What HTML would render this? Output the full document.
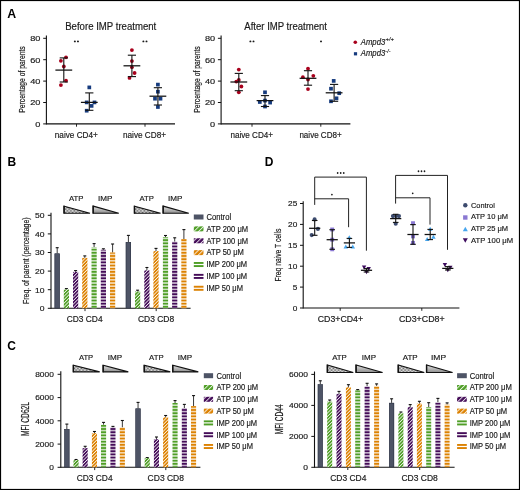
<!DOCTYPE html><html><head><meta charset="utf-8"><style>html,body{margin:0;padding:0;background:#fff;}svg{display:block;will-change:transform;}text{font-family:"Liberation Sans",sans-serif;}</style></head><body>
<svg width="520" height="490" viewBox="0 0 520 490">

<defs>
 <pattern id="dg" patternUnits="userSpaceOnUse" width="2.4" height="2.4" patternTransform="rotate(45)"><rect width="2.4" height="2.4" fill="#4f9e26"/><rect width="0.8" height="2.4" fill="#fff" fill-opacity="0.9"/></pattern>
 <pattern id="dp" patternUnits="userSpaceOnUse" width="2.4" height="2.4" patternTransform="rotate(45)"><rect width="2.4" height="2.4" fill="#440c58"/><rect width="0.8" height="2.4" fill="#fff" fill-opacity="0.9"/></pattern>
 <pattern id="do" patternUnits="userSpaceOnUse" width="2.4" height="2.4" patternTransform="rotate(45)"><rect width="2.4" height="2.4" fill="#dc8203"/><rect width="0.8" height="2.4" fill="#fff" fill-opacity="0.9"/></pattern>
 <pattern id="lg" patternUnits="userSpaceOnUse" width="3.3" height="3.3" patternTransform="rotate(45)"><rect width="3.3" height="3.3" fill="#4f9e26"/><rect width="0.95" height="3.3" fill="#fff" fill-opacity="0.85"/></pattern>
 <pattern id="lp" patternUnits="userSpaceOnUse" width="3.3" height="3.3" patternTransform="rotate(45)"><rect width="3.3" height="3.3" fill="#440c58"/><rect width="0.95" height="3.3" fill="#fff" fill-opacity="0.85"/></pattern>
 <pattern id="lo" patternUnits="userSpaceOnUse" width="3.3" height="3.3" patternTransform="rotate(45)"><rect width="3.3" height="3.3" fill="#dc8203"/><rect width="0.95" height="3.3" fill="#fff" fill-opacity="0.85"/></pattern>
 <pattern id="hg" patternUnits="userSpaceOnUse" width="10" height="3.18" y="0.78"><rect width="10" height="3.18" fill="#4f9e26"/><rect y="1.65" width="10" height="1.53" fill="#fff" fill-opacity="0.72"/></pattern>
 <pattern id="hp" patternUnits="userSpaceOnUse" width="10" height="3.18" y="0.78"><rect width="10" height="3.18" fill="#440c58"/><rect y="1.65" width="10" height="1.53" fill="#fff" fill-opacity="0.72"/></pattern>
 <pattern id="ho" patternUnits="userSpaceOnUse" width="10" height="3.18" y="0.78"><rect width="10" height="3.18" fill="#dc8203"/><rect y="1.65" width="10" height="1.53" fill="#fff" fill-opacity="0.72"/></pattern>
 <pattern id="hg2" patternUnits="userSpaceOnUse" width="10" height="3.17" y="0.25"><rect width="10" height="3.17" fill="#4f9e26"/><rect y="1.65" width="10" height="1.52" fill="#fff" fill-opacity="0.72"/></pattern>
 <pattern id="hp2" patternUnits="userSpaceOnUse" width="10" height="3.17" y="0.25"><rect width="10" height="3.17" fill="#440c58"/><rect y="1.65" width="10" height="1.52" fill="#fff" fill-opacity="0.72"/></pattern>
 <pattern id="ho2" patternUnits="userSpaceOnUse" width="10" height="3.17" y="0.25"><rect width="10" height="3.17" fill="#dc8203"/><rect y="1.65" width="10" height="1.52" fill="#fff" fill-opacity="0.72"/></pattern>
 <pattern id="chk" patternUnits="userSpaceOnUse" width="1.4" height="1.4"><rect width="1.4" height="1.4" fill="#fff"/><rect width="0.7" height="0.7" fill="#5a5a5a"/><rect x="0.7" y="0.7" width="0.7" height="0.7" fill="#5a5a5a"/></pattern>
 <linearGradient id="grd" x1="0" y1="0" x2="0" y2="1"><stop offset="0" stop-color="#e2e2e2"/><stop offset="1" stop-color="#8e8e8e"/></linearGradient>
</defs>
<rect x="0" y="0" width="520" height="490" fill="#fff"/>
<text x="7.3" y="17.6" font-size="12.3" font-weight="bold" fill="#000">A</text>
<text x="7.4" y="165.9" font-size="12" font-weight="bold" fill="#000">B</text>
<text x="264.8" y="165.7" font-size="12" font-weight="bold" fill="#000">D</text>
<text x="7.3" y="350.2" font-size="12" font-weight="bold" fill="#000">C</text>
<text x="65.2" y="29.6" font-size="10" textLength="91.1" lengthAdjust="spacingAndGlyphs" fill="#1a1a1a" stroke="#1a1a1a" stroke-width="0.17">Before IMP treatment</text>
<line x1="46.4" y1="35.6" x2="46.4" y2="124.4" stroke="#111" stroke-width="1.1"/>
<line x1="43.2" y1="38.3" x2="46.4" y2="38.3" stroke="#111" stroke-width="1"/>
<text x="30.2" y="41.1" font-size="8" textLength="10.2" lengthAdjust="spacingAndGlyphs" fill="#1a1a1a" stroke="#1a1a1a" stroke-width="0.17">80</text>
<line x1="43.2" y1="59.7" x2="46.4" y2="59.7" stroke="#111" stroke-width="1"/>
<text x="30.2" y="62.5" font-size="8" textLength="10.2" lengthAdjust="spacingAndGlyphs" fill="#1a1a1a" stroke="#1a1a1a" stroke-width="0.17">60</text>
<line x1="43.2" y1="81.1" x2="46.4" y2="81.1" stroke="#111" stroke-width="1"/>
<text x="30.2" y="83.9" font-size="8" textLength="10.2" lengthAdjust="spacingAndGlyphs" fill="#1a1a1a" stroke="#1a1a1a" stroke-width="0.17">40</text>
<line x1="43.2" y1="102.5" x2="46.4" y2="102.5" stroke="#111" stroke-width="1"/>
<text x="30.2" y="105.3" font-size="8" textLength="10.2" lengthAdjust="spacingAndGlyphs" fill="#1a1a1a" stroke="#1a1a1a" stroke-width="0.17">20</text>
<line x1="43.2" y1="123.9" x2="46.4" y2="123.9" stroke="#111" stroke-width="1"/>
<text x="35.3" y="126.7" font-size="8" textLength="5.1" lengthAdjust="spacingAndGlyphs" fill="#1a1a1a" stroke="#1a1a1a" stroke-width="0.17">0</text>
<line x1="46.4" y1="123.9" x2="175" y2="123.9" stroke="#111" stroke-width="1.1"/>
<line x1="76.5" y1="123.9" x2="76.5" y2="126.7" stroke="#111" stroke-width="0.9"/>
<line x1="145" y1="123.9" x2="145" y2="126.7" stroke="#111" stroke-width="0.9"/>
<text transform="translate(24.9,112.7) rotate(-90)" x="0" y="0" font-size="9.5" textLength="66.4" lengthAdjust="spacingAndGlyphs" fill="#1a1a1a" stroke="#1a1a1a" stroke-width="0.2">Percentage of parents</text>
<text x="54.8" y="137.6" font-size="8.6" textLength="43" lengthAdjust="spacingAndGlyphs" fill="#1a1a1a" stroke="#1a1a1a" stroke-width="0.17">naive CD4+</text>
<text x="123" y="137.6" font-size="8.6" textLength="43" lengthAdjust="spacingAndGlyphs" fill="#1a1a1a" stroke="#1a1a1a" stroke-width="0.17">naive CD8+</text>
<text x="244.3" y="29.6" font-size="10" textLength="82.7" lengthAdjust="spacingAndGlyphs" fill="#1a1a1a" stroke="#1a1a1a" stroke-width="0.17">After IMP treatment</text>
<line x1="221.1" y1="35.6" x2="221.1" y2="124.4" stroke="#111" stroke-width="1.1"/>
<line x1="217.9" y1="38.3" x2="221.1" y2="38.3" stroke="#111" stroke-width="1"/>
<text x="204.9" y="41.1" font-size="8" textLength="10.2" lengthAdjust="spacingAndGlyphs" fill="#1a1a1a" stroke="#1a1a1a" stroke-width="0.17">80</text>
<line x1="217.9" y1="59.7" x2="221.1" y2="59.7" stroke="#111" stroke-width="1"/>
<text x="204.9" y="62.5" font-size="8" textLength="10.2" lengthAdjust="spacingAndGlyphs" fill="#1a1a1a" stroke="#1a1a1a" stroke-width="0.17">60</text>
<line x1="217.9" y1="81.1" x2="221.1" y2="81.1" stroke="#111" stroke-width="1"/>
<text x="204.9" y="83.9" font-size="8" textLength="10.2" lengthAdjust="spacingAndGlyphs" fill="#1a1a1a" stroke="#1a1a1a" stroke-width="0.17">40</text>
<line x1="217.9" y1="102.5" x2="221.1" y2="102.5" stroke="#111" stroke-width="1"/>
<text x="204.9" y="105.3" font-size="8" textLength="10.2" lengthAdjust="spacingAndGlyphs" fill="#1a1a1a" stroke="#1a1a1a" stroke-width="0.17">20</text>
<line x1="217.9" y1="123.9" x2="221.1" y2="123.9" stroke="#111" stroke-width="1"/>
<text x="210" y="126.7" font-size="8" textLength="5.1" lengthAdjust="spacingAndGlyphs" fill="#1a1a1a" stroke="#1a1a1a" stroke-width="0.17">0</text>
<line x1="221.1" y1="123.9" x2="350.4" y2="123.9" stroke="#111" stroke-width="1.1"/>
<line x1="252" y1="123.9" x2="252" y2="126.7" stroke="#111" stroke-width="0.9"/>
<line x1="320.8" y1="123.9" x2="320.8" y2="126.7" stroke="#111" stroke-width="0.9"/>
<text transform="translate(199.6,112.7) rotate(-90)" x="0" y="0" font-size="9.5" textLength="66.4" lengthAdjust="spacingAndGlyphs" fill="#1a1a1a" stroke="#1a1a1a" stroke-width="0.2">Percentage of parents</text>
<text x="230.4" y="137.6" font-size="8.6" textLength="42.6" lengthAdjust="spacingAndGlyphs" fill="#1a1a1a" stroke="#1a1a1a" stroke-width="0.17">naive CD4+</text>
<text x="299.4" y="137.6" font-size="8.6" textLength="42.3" lengthAdjust="spacingAndGlyphs" fill="#1a1a1a" stroke="#1a1a1a" stroke-width="0.17">naive CD8+</text>
<ellipse cx="74.85" cy="41.4" rx="1" ry="0.9" fill="#1a1a1a"/>
<ellipse cx="77.95" cy="41.4" rx="1" ry="0.9" fill="#1a1a1a"/>
<ellipse cx="143.4" cy="41.4" rx="1" ry="0.9" fill="#1a1a1a"/>
<ellipse cx="146.5" cy="41.4" rx="1" ry="0.9" fill="#1a1a1a"/>
<ellipse cx="250.4" cy="41.4" rx="1" ry="0.9" fill="#1a1a1a"/>
<ellipse cx="253.5" cy="41.4" rx="1" ry="0.9" fill="#1a1a1a"/>
<ellipse cx="321" cy="41.4" rx="1" ry="0.9" fill="#1a1a1a"/>
<circle cx="66" cy="57.3" r="1.9" fill="#a8001c"/>
<circle cx="60.9" cy="60.8" r="1.9" fill="#a8001c"/>
<circle cx="63.8" cy="66.5" r="1.9" fill="#a8001c"/>
<circle cx="66" cy="80.6" r="1.9" fill="#a8001c"/>
<circle cx="60.9" cy="85.1" r="1.9" fill="#a8001c"/>
<line x1="63.8" y1="57.9" x2="63.8" y2="82" stroke="#111" stroke-width="1.1"/>
<line x1="59.7" y1="57.9" x2="67.9" y2="57.9" stroke="#111" stroke-width="1.1"/>
<line x1="59.7" y1="82" x2="67.9" y2="82" stroke="#111" stroke-width="1.1"/>
<line x1="55.4" y1="70.1" x2="72.2" y2="70.1" stroke="#111" stroke-width="1.26"/>
<rect x="87.45" y="85.55" width="3.7" height="3.7" fill="#163b7e"/>
<rect x="84.85" y="100.55" width="3.7" height="3.7" fill="#163b7e"/>
<rect x="92.65" y="100.55" width="3.7" height="3.7" fill="#163b7e"/>
<rect x="89.75" y="104.05" width="3.7" height="3.7" fill="#163b7e"/>
<rect x="84.85" y="108.85" width="3.7" height="3.7" fill="#163b7e"/>
<line x1="89.3" y1="92.9" x2="89.3" y2="110.3" stroke="#111" stroke-width="1.1"/>
<line x1="85.2" y1="92.9" x2="93.4" y2="92.9" stroke="#111" stroke-width="1.1"/>
<line x1="85.2" y1="110.3" x2="93.4" y2="110.3" stroke="#111" stroke-width="1.1"/>
<line x1="80.9" y1="102.4" x2="97.7" y2="102.4" stroke="#111" stroke-width="1.26"/>
<circle cx="131.9" cy="50.1" r="1.9" fill="#a8001c"/>
<circle cx="131.9" cy="61.1" r="1.9" fill="#a8001c"/>
<circle cx="131.9" cy="67.2" r="1.9" fill="#a8001c"/>
<circle cx="134.6" cy="73" r="1.9" fill="#a8001c"/>
<circle cx="129.5" cy="77.9" r="1.9" fill="#a8001c"/>
<line x1="131.9" y1="55.2" x2="131.9" y2="76.6" stroke="#111" stroke-width="1.1"/>
<line x1="127.8" y1="55.2" x2="136" y2="55.2" stroke="#111" stroke-width="1.1"/>
<line x1="127.8" y1="76.6" x2="136" y2="76.6" stroke="#111" stroke-width="1.1"/>
<line x1="123.5" y1="65.8" x2="140.3" y2="65.8" stroke="#111" stroke-width="1.26"/>
<rect x="156.05" y="82.75" width="3.7" height="3.7" fill="#163b7e"/>
<rect x="156.05" y="89.85" width="3.7" height="3.7" fill="#163b7e"/>
<rect x="153.15" y="96.85" width="3.7" height="3.7" fill="#163b7e"/>
<rect x="158.65" y="96.85" width="3.7" height="3.7" fill="#163b7e"/>
<rect x="156.05" y="105.15" width="3.7" height="3.7" fill="#163b7e"/>
<line x1="157.9" y1="87.7" x2="157.9" y2="105" stroke="#111" stroke-width="1.1"/>
<line x1="153.8" y1="87.7" x2="162" y2="87.7" stroke="#111" stroke-width="1.1"/>
<line x1="153.8" y1="105" x2="162" y2="105" stroke="#111" stroke-width="1.1"/>
<line x1="149.5" y1="96.2" x2="166.3" y2="96.2" stroke="#111" stroke-width="1.26"/>
<circle cx="238.8" cy="69.6" r="1.9" fill="#a8001c"/>
<circle cx="236.3" cy="81.6" r="1.9" fill="#a8001c"/>
<circle cx="238.8" cy="80" r="1.9" fill="#a8001c"/>
<circle cx="241.4" cy="86.5" r="1.9" fill="#a8001c"/>
<circle cx="238.8" cy="92.3" r="1.9" fill="#a8001c"/>
<line x1="238.8" y1="73.4" x2="238.8" y2="90.7" stroke="#111" stroke-width="1.1"/>
<line x1="234.7" y1="73.4" x2="242.9" y2="73.4" stroke="#111" stroke-width="1.1"/>
<line x1="234.7" y1="90.7" x2="242.9" y2="90.7" stroke="#111" stroke-width="1.1"/>
<line x1="230.4" y1="82" x2="247.2" y2="82" stroke="#111" stroke-width="1.26"/>
<rect x="263.15" y="90.45" width="3.7" height="3.7" fill="#163b7e"/>
<rect x="257.95" y="100.15" width="3.7" height="3.7" fill="#163b7e"/>
<rect x="263.15" y="98.75" width="3.7" height="3.7" fill="#163b7e"/>
<rect x="268.25" y="100.75" width="3.7" height="3.7" fill="#163b7e"/>
<rect x="263.15" y="104.65" width="3.7" height="3.7" fill="#163b7e"/>
<line x1="265" y1="95.6" x2="265" y2="106.5" stroke="#111" stroke-width="1.1"/>
<line x1="260.9" y1="95.6" x2="269.1" y2="95.6" stroke="#111" stroke-width="1.1"/>
<line x1="260.9" y1="106.5" x2="269.1" y2="106.5" stroke="#111" stroke-width="1.1"/>
<line x1="256.6" y1="100.6" x2="273.4" y2="100.6" stroke="#111" stroke-width="1.26"/>
<circle cx="308" cy="68.7" r="1.9" fill="#a8001c"/>
<circle cx="302.9" cy="77.2" r="1.9" fill="#a8001c"/>
<circle cx="308" cy="79.5" r="1.9" fill="#a8001c"/>
<circle cx="313.3" cy="75.8" r="1.9" fill="#a8001c"/>
<circle cx="308" cy="89.1" r="1.9" fill="#a8001c"/>
<line x1="308" y1="70.7" x2="308" y2="85.2" stroke="#111" stroke-width="1.1"/>
<line x1="303.9" y1="70.7" x2="312.1" y2="70.7" stroke="#111" stroke-width="1.1"/>
<line x1="303.9" y1="85.2" x2="312.1" y2="85.2" stroke="#111" stroke-width="1.1"/>
<line x1="299.6" y1="78.3" x2="316.4" y2="78.3" stroke="#111" stroke-width="1.26"/>
<rect x="331.85" y="79.05" width="3.7" height="3.7" fill="#163b7e"/>
<rect x="329.15" y="86.85" width="3.7" height="3.7" fill="#163b7e"/>
<rect x="337.35" y="91.35" width="3.7" height="3.7" fill="#163b7e"/>
<rect x="334.65" y="96.45" width="3.7" height="3.7" fill="#163b7e"/>
<rect x="329.15" y="99.45" width="3.7" height="3.7" fill="#163b7e"/>
<line x1="334.1" y1="84.4" x2="334.1" y2="101.3" stroke="#111" stroke-width="1.1"/>
<line x1="330" y1="84.4" x2="338.2" y2="84.4" stroke="#111" stroke-width="1.1"/>
<line x1="330" y1="101.3" x2="338.2" y2="101.3" stroke="#111" stroke-width="1.1"/>
<line x1="325.7" y1="92.8" x2="342.5" y2="92.8" stroke="#111" stroke-width="1.26"/>
<circle cx="355.3" cy="42.3" r="1.8" fill="#a8001c"/>
<rect x="353.9" y="52.2" width="3.2" height="3.2" fill="#163b7e"/>
<text x="360.8" y="44.85" font-size="8.3" textLength="24.4" lengthAdjust="spacingAndGlyphs" font-style="italic" fill="#1a1a1a" stroke="#1a1a1a" stroke-width="0.17">Ampd3</text>
<text x="385.6" y="41.4" font-size="5.6" textLength="8.2" lengthAdjust="spacingAndGlyphs" font-style="italic" fill="#1a1a1a" stroke="#1a1a1a" stroke-width="0.17">+/+</text>
<text x="360.8" y="56.3" font-size="8.3" textLength="24.4" lengthAdjust="spacingAndGlyphs" font-style="italic" fill="#1a1a1a" stroke="#1a1a1a" stroke-width="0.17">Ampd3</text>
<text x="385.6" y="53" font-size="5.6" textLength="5" lengthAdjust="spacingAndGlyphs" font-style="italic" fill="#1a1a1a" stroke="#1a1a1a" stroke-width="0.17">-/-</text>
<line x1="51" y1="212.7" x2="51" y2="308.8" stroke="#111" stroke-width="1.1"/>
<line x1="47.8" y1="215.3" x2="51" y2="215.3" stroke="#111" stroke-width="1"/>
<text x="35.1" y="218.1" font-size="8" textLength="9.5" lengthAdjust="spacingAndGlyphs" fill="#1a1a1a" stroke="#1a1a1a" stroke-width="0.17">50</text>
<line x1="47.8" y1="233.9" x2="51" y2="233.9" stroke="#111" stroke-width="1"/>
<text x="35.1" y="236.7" font-size="8" textLength="9.5" lengthAdjust="spacingAndGlyphs" fill="#1a1a1a" stroke="#1a1a1a" stroke-width="0.17">40</text>
<line x1="47.8" y1="252.5" x2="51" y2="252.5" stroke="#111" stroke-width="1"/>
<text x="35.1" y="255.3" font-size="8" textLength="9.5" lengthAdjust="spacingAndGlyphs" fill="#1a1a1a" stroke="#1a1a1a" stroke-width="0.17">30</text>
<line x1="47.8" y1="271.1" x2="51" y2="271.1" stroke="#111" stroke-width="1"/>
<text x="35.1" y="273.9" font-size="8" textLength="9.5" lengthAdjust="spacingAndGlyphs" fill="#1a1a1a" stroke="#1a1a1a" stroke-width="0.17">20</text>
<line x1="47.8" y1="289.7" x2="51" y2="289.7" stroke="#111" stroke-width="1"/>
<text x="35.1" y="292.5" font-size="8" textLength="9.5" lengthAdjust="spacingAndGlyphs" fill="#1a1a1a" stroke="#1a1a1a" stroke-width="0.17">10</text>
<line x1="47.8" y1="308.3" x2="51" y2="308.3" stroke="#111" stroke-width="1"/>
<text x="39.85" y="311.1" font-size="8" textLength="4.75" lengthAdjust="spacingAndGlyphs" fill="#1a1a1a" stroke="#1a1a1a" stroke-width="0.17">0</text>
<line x1="51" y1="308.3" x2="190.6" y2="308.3" stroke="#111" stroke-width="1.1"/>
<line x1="85" y1="308.3" x2="85" y2="311.1" stroke="#111" stroke-width="0.9"/>
<line x1="156.2" y1="308.3" x2="156.2" y2="311.1" stroke="#111" stroke-width="0.9"/>
<text transform="translate(28.5,304) rotate(-90)" x="0" y="0" font-size="9.4" textLength="86.6" lengthAdjust="spacingAndGlyphs" fill="#1a1a1a" stroke="#1a1a1a" stroke-width="0.2">Freq. of parent (percentage)</text>
<text x="66.7" y="321.6" font-size="8.2" textLength="35.9" lengthAdjust="spacingAndGlyphs" fill="#1a1a1a" stroke="#1a1a1a" stroke-width="0.17">CD3 CD4</text>
<text x="137.9" y="321.6" font-size="8.2" textLength="36.3" lengthAdjust="spacingAndGlyphs" fill="#1a1a1a" stroke="#1a1a1a" stroke-width="0.17">CD3 CD8</text>
<line x1="57.2" y1="247.7" x2="57.2" y2="253.5" stroke="#222" stroke-width="0.9"/>
<line x1="55.7" y1="247.7" x2="58.7" y2="247.7" stroke="#111" stroke-width="1.1"/>
<rect x="54.6" y="253.5" width="5.2" height="54.8" fill="#4e5466"/>
<rect x="54.85" y="253.75" width="4.7" height="54.3" fill="none" stroke="#2a3040" stroke-width="0.5"/>
<line x1="66.4" y1="288.6" x2="66.4" y2="289.5" stroke="#222" stroke-width="0.9"/>
<line x1="64.9" y1="288.6" x2="67.9" y2="288.6" stroke="#111" stroke-width="1.1"/>
<rect x="63.8" y="289.5" width="5.2" height="18.8" fill="url(#dg)"/>
<line x1="75.6" y1="270.6" x2="75.6" y2="271.9" stroke="#222" stroke-width="0.9"/>
<line x1="74.1" y1="270.6" x2="77.1" y2="270.6" stroke="#111" stroke-width="1.1"/>
<rect x="73" y="271.9" width="5.2" height="36.4" fill="url(#dp)"/>
<line x1="84.8" y1="255.9" x2="84.8" y2="257.9" stroke="#222" stroke-width="0.9"/>
<line x1="83.3" y1="255.9" x2="86.3" y2="255.9" stroke="#111" stroke-width="1.1"/>
<rect x="82.2" y="257.9" width="5.2" height="50.4" fill="url(#do)"/>
<line x1="94.1" y1="243.6" x2="94.1" y2="247.2" stroke="#222" stroke-width="0.9"/>
<line x1="92.6" y1="243.6" x2="95.6" y2="243.6" stroke="#111" stroke-width="1.1"/>
<rect x="91.5" y="247.2" width="5.2" height="61.1" fill="url(#hg)"/>
<line x1="103.4" y1="248.8" x2="103.4" y2="249.8" stroke="#222" stroke-width="0.9"/>
<line x1="101.9" y1="248.8" x2="104.9" y2="248.8" stroke="#111" stroke-width="1.1"/>
<rect x="100.8" y="249.8" width="5.2" height="58.5" fill="url(#hp)"/>
<line x1="112.6" y1="244" x2="112.6" y2="252.5" stroke="#222" stroke-width="0.9"/>
<line x1="111.1" y1="244" x2="114.1" y2="244" stroke="#111" stroke-width="1.1"/>
<rect x="110" y="252.5" width="5.2" height="55.8" fill="url(#ho)"/>
<line x1="128.4" y1="235.4" x2="128.4" y2="242.1" stroke="#222" stroke-width="0.9"/>
<line x1="126.9" y1="235.4" x2="129.9" y2="235.4" stroke="#111" stroke-width="1.1"/>
<rect x="125.8" y="242.1" width="5.2" height="66.2" fill="#4e5466"/>
<rect x="126.05" y="242.35" width="4.7" height="65.7" fill="none" stroke="#2a3040" stroke-width="0.5"/>
<line x1="137.6" y1="290.2" x2="137.6" y2="291.5" stroke="#222" stroke-width="0.9"/>
<line x1="136.1" y1="290.2" x2="139.1" y2="290.2" stroke="#111" stroke-width="1.1"/>
<rect x="135" y="291.5" width="5.2" height="16.8" fill="url(#dg)"/>
<line x1="146.9" y1="267.5" x2="146.9" y2="270.4" stroke="#222" stroke-width="0.9"/>
<line x1="145.4" y1="267.5" x2="148.4" y2="267.5" stroke="#111" stroke-width="1.1"/>
<rect x="144.3" y="270.4" width="5.2" height="37.9" fill="url(#dp)"/>
<line x1="156" y1="248.4" x2="156" y2="251.1" stroke="#222" stroke-width="0.9"/>
<line x1="154.5" y1="248.4" x2="157.5" y2="248.4" stroke="#111" stroke-width="1.1"/>
<rect x="153.4" y="251.1" width="5.2" height="57.2" fill="url(#do)"/>
<line x1="165.5" y1="235.5" x2="165.5" y2="237.2" stroke="#222" stroke-width="0.9"/>
<line x1="164" y1="235.5" x2="167" y2="235.5" stroke="#111" stroke-width="1.1"/>
<rect x="162.9" y="237.2" width="5.2" height="71.1" fill="url(#hg)"/>
<line x1="174.7" y1="237.8" x2="174.7" y2="241.7" stroke="#222" stroke-width="0.9"/>
<line x1="173.2" y1="237.8" x2="176.2" y2="237.8" stroke="#111" stroke-width="1.1"/>
<rect x="172.1" y="241.7" width="5.2" height="66.6" fill="url(#hp)"/>
<line x1="183.9" y1="229.6" x2="183.9" y2="239" stroke="#222" stroke-width="0.9"/>
<line x1="182.4" y1="229.6" x2="185.4" y2="229.6" stroke="#111" stroke-width="1.1"/>
<rect x="181.3" y="239" width="5.2" height="69.3" fill="url(#ho)"/>
<polygon points="64,206.1 64,213.3 90,213.3" fill="url(#chk)" stroke="#111" stroke-width="1.1" stroke-linejoin="miter"/>
<line x1="64.1" y1="205.8" x2="64.1" y2="213.6" stroke="#111" stroke-width="1.4"/>
<polygon points="93.1,206.1 93.1,213.3 118.8,213.3" fill="url(#grd)" stroke="#111" stroke-width="1.1" stroke-linejoin="miter"/>
<line x1="93.2" y1="205.8" x2="93.2" y2="213.6" stroke="#111" stroke-width="1.4"/>
<polygon points="134.4,206.1 134.4,213.3 160.6,213.3" fill="url(#chk)" stroke="#111" stroke-width="1.1" stroke-linejoin="miter"/>
<line x1="134.5" y1="205.8" x2="134.5" y2="213.6" stroke="#111" stroke-width="1.4"/>
<polygon points="163.1,206.1 163.1,213.3 188.8,213.3" fill="url(#grd)" stroke="#111" stroke-width="1.1" stroke-linejoin="miter"/>
<line x1="163.2" y1="205.8" x2="163.2" y2="213.6" stroke="#111" stroke-width="1.4"/>
<text x="69" y="201.1" font-size="8" textLength="14.5" lengthAdjust="spacingAndGlyphs" fill="#1a1a1a" stroke="#1a1a1a" stroke-width="0.17">ATP</text>
<text x="97.9" y="201.1" font-size="8" textLength="14.4" lengthAdjust="spacingAndGlyphs" fill="#1a1a1a" stroke="#1a1a1a" stroke-width="0.17">IMP</text>
<text x="139.4" y="201.1" font-size="8" textLength="14.4" lengthAdjust="spacingAndGlyphs" fill="#1a1a1a" stroke="#1a1a1a" stroke-width="0.17">ATP</text>
<text x="167.9" y="201.1" font-size="8" textLength="14.4" lengthAdjust="spacingAndGlyphs" fill="#1a1a1a" stroke="#1a1a1a" stroke-width="0.17">IMP</text>
<rect x="193.8" y="214.5" width="9.7" height="5" fill="#4e5466"/>
<text x="206.5" y="219.8" font-size="8.2" textLength="24.6" lengthAdjust="spacingAndGlyphs" fill="#1a1a1a" stroke="#1a1a1a" stroke-width="0.17">Control</text>
<rect x="193.8" y="226.38" width="9.7" height="5" fill="url(#lg)"/>
<text x="206.5" y="231.68" font-size="8.2" textLength="41.6" lengthAdjust="spacingAndGlyphs" fill="#1a1a1a" stroke="#1a1a1a" stroke-width="0.17">ATP 200 &#956;M</text>
<rect x="193.8" y="238.26" width="9.7" height="5" fill="url(#lp)"/>
<text x="206.5" y="243.56" font-size="8.2" textLength="41.6" lengthAdjust="spacingAndGlyphs" fill="#1a1a1a" stroke="#1a1a1a" stroke-width="0.17">ATP 100 &#956;M</text>
<rect x="193.8" y="250.14" width="9.7" height="5" fill="url(#lo)"/>
<text x="206.5" y="255.44" font-size="8.2" textLength="37.4" lengthAdjust="spacingAndGlyphs" fill="#1a1a1a" stroke="#1a1a1a" stroke-width="0.17">ATP 50 &#956;M</text>
<rect x="193.8" y="262.02" width="9.7" height="1.9" fill="#4f9e26"/>
<rect x="193.8" y="265.12" width="9.7" height="1.9" fill="#4f9e26"/>
<text x="206.5" y="267.32" font-size="8.2" textLength="40.6" lengthAdjust="spacingAndGlyphs" fill="#1a1a1a" stroke="#1a1a1a" stroke-width="0.17">IMP 200 &#956;M</text>
<rect x="193.8" y="273.9" width="9.7" height="1.9" fill="#440c58"/>
<rect x="193.8" y="277" width="9.7" height="1.9" fill="#440c58"/>
<text x="206.5" y="279.2" font-size="8.2" textLength="40.6" lengthAdjust="spacingAndGlyphs" fill="#1a1a1a" stroke="#1a1a1a" stroke-width="0.17">IMP 100 &#956;M</text>
<rect x="193.8" y="285.78" width="9.7" height="1.9" fill="#dc8203"/>
<rect x="193.8" y="288.88" width="9.7" height="1.9" fill="#dc8203"/>
<text x="206.5" y="291.08" font-size="8.2" textLength="36.4" lengthAdjust="spacingAndGlyphs" fill="#1a1a1a" stroke="#1a1a1a" stroke-width="0.17">IMP 50 &#956;M</text>
<line x1="303.2" y1="201.2" x2="303.2" y2="308.5" stroke="#111" stroke-width="1.1"/>
<line x1="300" y1="203.5" x2="303.2" y2="203.5" stroke="#111" stroke-width="1"/>
<text x="288.1" y="206.3" font-size="8" textLength="9.2" lengthAdjust="spacingAndGlyphs" fill="#1a1a1a" stroke="#1a1a1a" stroke-width="0.17">25</text>
<line x1="300" y1="224.4" x2="303.2" y2="224.4" stroke="#111" stroke-width="1"/>
<text x="288.1" y="227.2" font-size="8" textLength="9.2" lengthAdjust="spacingAndGlyphs" fill="#1a1a1a" stroke="#1a1a1a" stroke-width="0.17">20</text>
<line x1="300" y1="245.3" x2="303.2" y2="245.3" stroke="#111" stroke-width="1"/>
<text x="288.1" y="248.1" font-size="8" textLength="9.2" lengthAdjust="spacingAndGlyphs" fill="#1a1a1a" stroke="#1a1a1a" stroke-width="0.17">15</text>
<line x1="300" y1="266.2" x2="303.2" y2="266.2" stroke="#111" stroke-width="1"/>
<text x="288.1" y="269" font-size="8" textLength="9.2" lengthAdjust="spacingAndGlyphs" fill="#1a1a1a" stroke="#1a1a1a" stroke-width="0.17">10</text>
<line x1="300" y1="287.1" x2="303.2" y2="287.1" stroke="#111" stroke-width="1"/>
<text x="292.7" y="289.9" font-size="8" textLength="4.6" lengthAdjust="spacingAndGlyphs" fill="#1a1a1a" stroke="#1a1a1a" stroke-width="0.17">5</text>
<line x1="300" y1="308" x2="303.2" y2="308" stroke="#111" stroke-width="1"/>
<text x="292.7" y="310.8" font-size="8" textLength="4.6" lengthAdjust="spacingAndGlyphs" fill="#1a1a1a" stroke="#1a1a1a" stroke-width="0.17">0</text>
<line x1="303.2" y1="308" x2="459.4" y2="308" stroke="#111" stroke-width="1.1"/>
<line x1="340.2" y1="308" x2="340.2" y2="310.8" stroke="#111" stroke-width="0.9"/>
<line x1="421.8" y1="308" x2="421.8" y2="310.8" stroke="#111" stroke-width="0.9"/>
<text transform="translate(281,281.6) rotate(-90)" x="0" y="0" font-size="9.3" textLength="53" lengthAdjust="spacingAndGlyphs" fill="#1a1a1a" stroke="#1a1a1a" stroke-width="0.2">Freq naive T cells</text>
<text x="317.8" y="321.8" font-size="8.2" textLength="45.3" lengthAdjust="spacingAndGlyphs" fill="#1a1a1a" stroke="#1a1a1a" stroke-width="0.17">CD3+CD4+</text>
<text x="398.9" y="321.8" font-size="8.2" textLength="45.8" lengthAdjust="spacingAndGlyphs" fill="#1a1a1a" stroke="#1a1a1a" stroke-width="0.17">CD3+CD8+</text>
<polyline points="314.7,204.9 314.7,177.1 366.4,177.1 366.4,250.7" fill="none" stroke="#222" stroke-width="1"/>
<polyline points="314.7,198.8 348.6,198.8 348.6,227.2" fill="none" stroke="#222" stroke-width="1"/>
<polyline points="395.6,203.6 395.6,175.4 447.5,175.4 447.5,249.8" fill="none" stroke="#222" stroke-width="1"/>
<polyline points="395.6,197.8 430.0,197.8 430.0,224.6" fill="none" stroke="#222" stroke-width="1"/>
<ellipse cx="337.65" cy="173" rx="0.85" ry="1" fill="#1a1a1a"/>
<ellipse cx="340.7" cy="173" rx="0.85" ry="1" fill="#1a1a1a"/>
<ellipse cx="343.75" cy="173" rx="0.85" ry="1" fill="#1a1a1a"/>
<ellipse cx="331.9" cy="194.6" rx="0.85" ry="0.9" fill="#1a1a1a"/>
<ellipse cx="418.5" cy="171.2" rx="0.85" ry="1" fill="#1a1a1a"/>
<ellipse cx="421.5" cy="171.2" rx="0.85" ry="1" fill="#1a1a1a"/>
<ellipse cx="424.5" cy="171.2" rx="0.85" ry="1" fill="#1a1a1a"/>
<ellipse cx="412.7" cy="193.3" rx="0.85" ry="0.9" fill="#1a1a1a"/>
<circle cx="314.6" cy="219.4" r="2.05" fill="#3c4b6e"/>
<circle cx="317.9" cy="228.9" r="2.05" fill="#3c4b6e"/>
<circle cx="311.7" cy="235.1" r="2.05" fill="#3c4b6e"/>
<line x1="314.7" y1="220.5" x2="314.7" y2="235.3" stroke="#111" stroke-width="1.1"/>
<line x1="311.9" y1="220.5" x2="317.5" y2="220.5" stroke="#111" stroke-width="1.1"/>
<line x1="311.9" y1="235.3" x2="317.5" y2="235.3" stroke="#111" stroke-width="1.1"/>
<line x1="309.1" y1="228.3" x2="320.3" y2="228.3" stroke="#111" stroke-width="1.26"/>
<rect x="330.25" y="227.55" width="3.9" height="3.9" fill="#8a78d2"/>
<rect x="330.25" y="237.75" width="3.9" height="3.9" fill="#8a78d2"/>
<rect x="330.25" y="247.35" width="3.9" height="3.9" fill="#8a78d2"/>
<line x1="332.2" y1="229.7" x2="332.2" y2="249.3" stroke="#111" stroke-width="1.1"/>
<line x1="329.4" y1="229.7" x2="335" y2="229.7" stroke="#111" stroke-width="1.1"/>
<line x1="329.4" y1="249.3" x2="335" y2="249.3" stroke="#111" stroke-width="1.1"/>
<line x1="326.6" y1="239.7" x2="337.8" y2="239.7" stroke="#111" stroke-width="1.26"/>
<polygon points="349.3,235.17 347.05,239.22 351.55,239.22" fill="#46a6ee"/>
<polygon points="345.8,244.38 343.55,248.43 348.05,248.43" fill="#46a6ee"/>
<polygon points="352.8,244.38 350.55,248.43 355.05,248.43" fill="#46a6ee"/>
<line x1="349.4" y1="238.4" x2="349.4" y2="247.4" stroke="#111" stroke-width="1.1"/>
<line x1="346.6" y1="238.4" x2="352.2" y2="238.4" stroke="#111" stroke-width="1.1"/>
<line x1="346.6" y1="247.4" x2="352.2" y2="247.4" stroke="#111" stroke-width="1.1"/>
<line x1="343.8" y1="242.9" x2="355" y2="242.9" stroke="#111" stroke-width="1.26"/>
<polygon points="364.1,269.58 361.9,265.62 366.3,265.62" fill="#3d0b5e"/>
<polygon points="368.7,270.88 366.5,266.92 370.9,266.92" fill="#3d0b5e"/>
<polygon points="366.5,274.28 364.3,270.32 368.7,270.32" fill="#3d0b5e"/>
<line x1="366.5" y1="268.6" x2="366.5" y2="272" stroke="#111" stroke-width="1.1"/>
<line x1="363.7" y1="268.6" x2="369.3" y2="268.6" stroke="#111" stroke-width="1.1"/>
<line x1="363.7" y1="272" x2="369.3" y2="272" stroke="#111" stroke-width="1.1"/>
<line x1="360.9" y1="270.3" x2="372.1" y2="270.3" stroke="#111" stroke-width="1.26"/>
<circle cx="392.9" cy="216.1" r="2.05" fill="#3c4b6e"/>
<circle cx="396" cy="216.1" r="2.05" fill="#3c4b6e"/>
<circle cx="399" cy="216.1" r="2.05" fill="#3c4b6e"/>
<circle cx="395.7" cy="223.7" r="2.05" fill="#3c4b6e"/>
<line x1="395.7" y1="214.3" x2="395.7" y2="222.4" stroke="#111" stroke-width="1.1"/>
<line x1="392.9" y1="214.3" x2="398.5" y2="214.3" stroke="#111" stroke-width="1.1"/>
<line x1="392.9" y1="222.4" x2="398.5" y2="222.4" stroke="#111" stroke-width="1.1"/>
<line x1="390.1" y1="218.6" x2="401.3" y2="218.6" stroke="#111" stroke-width="1.26"/>
<rect x="411.05" y="221.25" width="3.9" height="3.9" fill="#8a78d2"/>
<rect x="411.05" y="234.45" width="3.9" height="3.9" fill="#8a78d2"/>
<rect x="411.05" y="240.95" width="3.9" height="3.9" fill="#8a78d2"/>
<line x1="413" y1="224.6" x2="413" y2="244.3" stroke="#111" stroke-width="1.1"/>
<line x1="410.2" y1="224.6" x2="415.8" y2="224.6" stroke="#111" stroke-width="1.1"/>
<line x1="410.2" y1="244.3" x2="415.8" y2="244.3" stroke="#111" stroke-width="1.1"/>
<line x1="407.4" y1="234.5" x2="418.6" y2="234.5" stroke="#111" stroke-width="1.26"/>
<polygon points="430.2,226.67 427.95,230.72 432.45,230.72" fill="#46a6ee"/>
<polygon points="433.4,234.67 431.15,238.72 435.65,238.72" fill="#46a6ee"/>
<polygon points="427.2,237.07 424.95,241.12 429.45,241.12" fill="#46a6ee"/>
<line x1="430.2" y1="229.4" x2="430.2" y2="239.6" stroke="#111" stroke-width="1.1"/>
<line x1="427.4" y1="229.4" x2="433" y2="229.4" stroke="#111" stroke-width="1.1"/>
<line x1="427.4" y1="239.6" x2="433" y2="239.6" stroke="#111" stroke-width="1.1"/>
<line x1="424.6" y1="234.5" x2="435.8" y2="234.5" stroke="#111" stroke-width="1.26"/>
<polygon points="444.9,266.98 442.7,263.02 447.1,263.02" fill="#3d0b5e"/>
<polygon points="450.3,269.78 448.1,265.82 452.5,265.82" fill="#3d0b5e"/>
<polygon points="447.8,272.18 445.6,268.22 450,268.22" fill="#3d0b5e"/>
<line x1="447.8" y1="266.6" x2="447.8" y2="270" stroke="#111" stroke-width="1.1"/>
<line x1="445" y1="266.6" x2="450.6" y2="266.6" stroke="#111" stroke-width="1.1"/>
<line x1="445" y1="270" x2="450.6" y2="270" stroke="#111" stroke-width="1.1"/>
<line x1="442.2" y1="268.4" x2="453.4" y2="268.4" stroke="#111" stroke-width="1.26"/>
<circle cx="465.3" cy="205.3" r="2.2" fill="#3c4b6e"/>
<rect x="463.1" y="215.3" width="4.4" height="4.4" fill="#8a78d2"/>
<polygon points="465.3,226.75 462.8,231.25 467.8,231.25" fill="#46a6ee"/>
<polygon points="465.3,242.85 462.8,238.35 467.8,238.35" fill="#3d0b5e"/>
<text x="471" y="207.7" font-size="7.9" textLength="23.8" lengthAdjust="spacingAndGlyphs" fill="#1a1a1a" stroke="#1a1a1a" stroke-width="0.17">Control</text>
<text x="471" y="219.45" font-size="7.9" textLength="37.1" lengthAdjust="spacingAndGlyphs" fill="#1a1a1a" stroke="#1a1a1a" stroke-width="0.17">ATP 10 &#956;M</text>
<text x="471" y="231.2" font-size="7.9" textLength="37.1" lengthAdjust="spacingAndGlyphs" fill="#1a1a1a" stroke="#1a1a1a" stroke-width="0.17">ATP 25 &#956;M</text>
<text x="471" y="242.95" font-size="7.9" textLength="42.1" lengthAdjust="spacingAndGlyphs" fill="#1a1a1a" stroke="#1a1a1a" stroke-width="0.17">ATP 100 &#956;M</text>
<line x1="60.8" y1="371.3" x2="60.8" y2="467.8" stroke="#111" stroke-width="1.1"/>
<line x1="57.6" y1="374.3" x2="60.8" y2="374.3" stroke="#111" stroke-width="1"/>
<text x="35.2" y="377.1" font-size="8" textLength="18.6" lengthAdjust="spacingAndGlyphs" fill="#1a1a1a" stroke="#1a1a1a" stroke-width="0.17">8000</text>
<line x1="57.6" y1="397.6" x2="60.8" y2="397.6" stroke="#111" stroke-width="1"/>
<text x="35.2" y="400.4" font-size="8" textLength="18.6" lengthAdjust="spacingAndGlyphs" fill="#1a1a1a" stroke="#1a1a1a" stroke-width="0.17">6000</text>
<line x1="57.6" y1="420.8" x2="60.8" y2="420.8" stroke="#111" stroke-width="1"/>
<text x="35.2" y="423.6" font-size="8" textLength="18.6" lengthAdjust="spacingAndGlyphs" fill="#1a1a1a" stroke="#1a1a1a" stroke-width="0.17">4000</text>
<line x1="57.6" y1="444.1" x2="60.8" y2="444.1" stroke="#111" stroke-width="1"/>
<text x="35.2" y="446.9" font-size="8" textLength="18.6" lengthAdjust="spacingAndGlyphs" fill="#1a1a1a" stroke="#1a1a1a" stroke-width="0.17">2000</text>
<line x1="57.6" y1="467.3" x2="60.8" y2="467.3" stroke="#111" stroke-width="1"/>
<text x="49.15" y="470.1" font-size="8" textLength="4.65" lengthAdjust="spacingAndGlyphs" fill="#1a1a1a" stroke="#1a1a1a" stroke-width="0.17">0</text>
<line x1="60.8" y1="467.3" x2="200.4" y2="467.3" stroke="#111" stroke-width="1.1"/>
<line x1="94.7" y1="467.3" x2="94.7" y2="470.1" stroke="#111" stroke-width="0.9"/>
<line x1="165.8" y1="467.3" x2="165.8" y2="470.1" stroke="#111" stroke-width="0.9"/>
<text transform="translate(29,435.95) rotate(-90)" x="0" y="0" font-size="10.2" textLength="33.9" lengthAdjust="spacingAndGlyphs" fill="#1a1a1a" stroke="#1a1a1a" stroke-width="0.2">MFI CD62L</text>
<text x="76.7" y="481.1" font-size="8.2" textLength="35.9" lengthAdjust="spacingAndGlyphs" fill="#1a1a1a" stroke="#1a1a1a" stroke-width="0.17">CD3 CD4</text>
<text x="147.6" y="481.1" font-size="8.2" textLength="36.4" lengthAdjust="spacingAndGlyphs" fill="#1a1a1a" stroke="#1a1a1a" stroke-width="0.17">CD3 CD8</text>
<line x1="66.85" y1="424.1" x2="66.85" y2="429.1" stroke="#222" stroke-width="0.9"/>
<line x1="65.35" y1="424.1" x2="68.35" y2="424.1" stroke="#111" stroke-width="1.1"/>
<rect x="64.3" y="429.1" width="5.1" height="38.2" fill="#4e5466"/>
<rect x="64.55" y="429.35" width="4.6" height="37.7" fill="none" stroke="#2a3040" stroke-width="0.5"/>
<line x1="76.05" y1="459.5" x2="76.05" y2="460.1" stroke="#222" stroke-width="0.9"/>
<line x1="74.55" y1="459.5" x2="77.55" y2="459.5" stroke="#111" stroke-width="1.1"/>
<rect x="73.5" y="460.1" width="5.1" height="7.2" fill="url(#dg)"/>
<line x1="85.15" y1="446.3" x2="85.15" y2="448.1" stroke="#222" stroke-width="0.9"/>
<line x1="83.65" y1="446.3" x2="86.65" y2="446.3" stroke="#111" stroke-width="1.1"/>
<rect x="82.6" y="448.1" width="5.1" height="19.2" fill="url(#dp)"/>
<line x1="94.45" y1="431.5" x2="94.45" y2="433.1" stroke="#222" stroke-width="0.9"/>
<line x1="92.95" y1="431.5" x2="95.95" y2="431.5" stroke="#111" stroke-width="1.1"/>
<rect x="91.9" y="433.1" width="5.1" height="34.2" fill="url(#do)"/>
<line x1="103.55" y1="422.4" x2="103.55" y2="424.8" stroke="#222" stroke-width="0.9"/>
<line x1="102.05" y1="422.4" x2="105.05" y2="422.4" stroke="#111" stroke-width="1.1"/>
<rect x="101" y="424.8" width="5.1" height="42.5" fill="url(#hg2)"/>
<line x1="112.95" y1="426.4" x2="112.95" y2="427.5" stroke="#222" stroke-width="0.9"/>
<line x1="111.45" y1="426.4" x2="114.45" y2="426.4" stroke="#111" stroke-width="1.1"/>
<rect x="110.4" y="427.5" width="5.1" height="39.8" fill="url(#hp2)"/>
<line x1="122.35" y1="420.5" x2="122.35" y2="427.5" stroke="#222" stroke-width="0.9"/>
<line x1="120.85" y1="420.5" x2="123.85" y2="420.5" stroke="#111" stroke-width="1.1"/>
<rect x="119.8" y="427.5" width="5.1" height="39.8" fill="url(#ho2)"/>
<line x1="138.05" y1="402.4" x2="138.05" y2="408.5" stroke="#222" stroke-width="0.9"/>
<line x1="136.55" y1="402.4" x2="139.55" y2="402.4" stroke="#111" stroke-width="1.1"/>
<rect x="135.5" y="408.5" width="5.1" height="58.8" fill="#4e5466"/>
<rect x="135.75" y="408.75" width="4.6" height="58.3" fill="none" stroke="#2a3040" stroke-width="0.5"/>
<line x1="147.25" y1="457.6" x2="147.25" y2="458.1" stroke="#222" stroke-width="0.9"/>
<line x1="145.75" y1="457.6" x2="148.75" y2="457.6" stroke="#111" stroke-width="1.1"/>
<rect x="144.7" y="458.1" width="5.1" height="9.2" fill="url(#dg)"/>
<line x1="156.45" y1="437" x2="156.45" y2="439.2" stroke="#222" stroke-width="0.9"/>
<line x1="154.95" y1="437" x2="157.95" y2="437" stroke="#111" stroke-width="1.1"/>
<rect x="153.9" y="439.2" width="5.1" height="28.1" fill="url(#dp)"/>
<line x1="165.65" y1="415.5" x2="165.65" y2="417.3" stroke="#222" stroke-width="0.9"/>
<line x1="164.15" y1="415.5" x2="167.15" y2="415.5" stroke="#111" stroke-width="1.1"/>
<rect x="163.1" y="417.3" width="5.1" height="50" fill="url(#do)"/>
<line x1="175.05" y1="400.6" x2="175.05" y2="403" stroke="#222" stroke-width="0.9"/>
<line x1="173.55" y1="400.6" x2="176.55" y2="400.6" stroke="#111" stroke-width="1.1"/>
<rect x="172.5" y="403" width="5.1" height="64.3" fill="url(#hg2)"/>
<line x1="184.35" y1="404.4" x2="184.35" y2="408.1" stroke="#222" stroke-width="0.9"/>
<line x1="182.85" y1="404.4" x2="185.85" y2="404.4" stroke="#111" stroke-width="1.1"/>
<rect x="181.8" y="408.1" width="5.1" height="59.2" fill="url(#hp2)"/>
<line x1="193.55" y1="395.6" x2="193.55" y2="406.1" stroke="#222" stroke-width="0.9"/>
<line x1="192.05" y1="395.6" x2="195.05" y2="395.6" stroke="#111" stroke-width="1.1"/>
<rect x="191" y="406.1" width="5.1" height="61.2" fill="url(#ho2)"/>
<polygon points="73.3,365.2 73.3,371.9 99.7,371.9" fill="url(#chk)" stroke="#111" stroke-width="1.1" stroke-linejoin="miter"/>
<line x1="73.4" y1="364.9" x2="73.4" y2="372.2" stroke="#111" stroke-width="1.4"/>
<polygon points="103.1,365.2 103.1,371.9 128.3,371.9" fill="url(#grd)" stroke="#111" stroke-width="1.1" stroke-linejoin="miter"/>
<line x1="103.2" y1="364.9" x2="103.2" y2="372.2" stroke="#111" stroke-width="1.4"/>
<polygon points="144.2,365.2 144.2,371.9 170.3,371.9" fill="url(#chk)" stroke="#111" stroke-width="1.1" stroke-linejoin="miter"/>
<line x1="144.3" y1="364.9" x2="144.3" y2="372.2" stroke="#111" stroke-width="1.4"/>
<polygon points="172.7,365.2 172.7,371.9 198.3,371.9" fill="url(#grd)" stroke="#111" stroke-width="1.1" stroke-linejoin="miter"/>
<line x1="172.8" y1="364.9" x2="172.8" y2="372.2" stroke="#111" stroke-width="1.4"/>
<text x="78.9" y="359.9" font-size="8" textLength="14.3" lengthAdjust="spacingAndGlyphs" fill="#1a1a1a" stroke="#1a1a1a" stroke-width="0.17">ATP</text>
<text x="107.8" y="359.9" font-size="8" textLength="14.4" lengthAdjust="spacingAndGlyphs" fill="#1a1a1a" stroke="#1a1a1a" stroke-width="0.17">IMP</text>
<text x="149.1" y="359.9" font-size="8" textLength="14.5" lengthAdjust="spacingAndGlyphs" fill="#1a1a1a" stroke="#1a1a1a" stroke-width="0.17">ATP</text>
<text x="177.8" y="359.9" font-size="8" textLength="14.4" lengthAdjust="spacingAndGlyphs" fill="#1a1a1a" stroke="#1a1a1a" stroke-width="0.17">IMP</text>
<rect x="203.8" y="373.2" width="9.3" height="5" fill="#4e5466"/>
<text x="216.5" y="378.5" font-size="8.2" textLength="24.6" lengthAdjust="spacingAndGlyphs" fill="#1a1a1a" stroke="#1a1a1a" stroke-width="0.17">Control</text>
<rect x="203.8" y="385" width="9.3" height="5" fill="url(#lg)"/>
<text x="216.5" y="390.3" font-size="8.2" textLength="41.6" lengthAdjust="spacingAndGlyphs" fill="#1a1a1a" stroke="#1a1a1a" stroke-width="0.17">ATP 200 &#956;M</text>
<rect x="203.8" y="396.8" width="9.3" height="5" fill="url(#lp)"/>
<text x="216.5" y="402.1" font-size="8.2" textLength="41.6" lengthAdjust="spacingAndGlyphs" fill="#1a1a1a" stroke="#1a1a1a" stroke-width="0.17">ATP 100 &#956;M</text>
<rect x="203.8" y="408.6" width="9.3" height="5" fill="url(#lo)"/>
<text x="216.5" y="413.9" font-size="8.2" textLength="37.4" lengthAdjust="spacingAndGlyphs" fill="#1a1a1a" stroke="#1a1a1a" stroke-width="0.17">ATP 50 &#956;M</text>
<rect x="203.8" y="420.4" width="9.3" height="1.9" fill="#4f9e26"/>
<rect x="203.8" y="423.5" width="9.3" height="1.9" fill="#4f9e26"/>
<text x="216.5" y="425.7" font-size="8.2" textLength="40.6" lengthAdjust="spacingAndGlyphs" fill="#1a1a1a" stroke="#1a1a1a" stroke-width="0.17">IMP 200 &#956;M</text>
<rect x="203.8" y="432.2" width="9.3" height="1.9" fill="#440c58"/>
<rect x="203.8" y="435.3" width="9.3" height="1.9" fill="#440c58"/>
<text x="216.5" y="437.5" font-size="8.2" textLength="40.6" lengthAdjust="spacingAndGlyphs" fill="#1a1a1a" stroke="#1a1a1a" stroke-width="0.17">IMP 100 &#956;M</text>
<rect x="203.8" y="444" width="9.3" height="1.9" fill="#dc8203"/>
<rect x="203.8" y="447.1" width="9.3" height="1.9" fill="#dc8203"/>
<text x="216.5" y="449.3" font-size="8.2" textLength="36.4" lengthAdjust="spacingAndGlyphs" fill="#1a1a1a" stroke="#1a1a1a" stroke-width="0.17">IMP 50 &#956;M</text>
<line x1="314.5" y1="371.5" x2="314.5" y2="467.8" stroke="#111" stroke-width="1.1"/>
<line x1="311.3" y1="374.4" x2="314.5" y2="374.4" stroke="#111" stroke-width="1"/>
<text x="289.02" y="377.2" font-size="8" textLength="18.88" lengthAdjust="spacingAndGlyphs" fill="#1a1a1a" stroke="#1a1a1a" stroke-width="0.17">6000</text>
<line x1="311.3" y1="405.4" x2="314.5" y2="405.4" stroke="#111" stroke-width="1"/>
<text x="289.02" y="408.2" font-size="8" textLength="18.88" lengthAdjust="spacingAndGlyphs" fill="#1a1a1a" stroke="#1a1a1a" stroke-width="0.17">4000</text>
<line x1="311.3" y1="436.4" x2="314.5" y2="436.4" stroke="#111" stroke-width="1"/>
<text x="289.02" y="439.2" font-size="8" textLength="18.88" lengthAdjust="spacingAndGlyphs" fill="#1a1a1a" stroke="#1a1a1a" stroke-width="0.17">2000</text>
<line x1="311.3" y1="467.3" x2="314.5" y2="467.3" stroke="#111" stroke-width="1"/>
<text x="303.18" y="470.1" font-size="8" textLength="4.72" lengthAdjust="spacingAndGlyphs" fill="#1a1a1a" stroke="#1a1a1a" stroke-width="0.17">0</text>
<line x1="314.5" y1="467.2" x2="454.6" y2="467.2" stroke="#111" stroke-width="1.1"/>
<line x1="347.8" y1="467.2" x2="347.8" y2="470" stroke="#111" stroke-width="0.9"/>
<line x1="419.7" y1="467.2" x2="419.7" y2="470" stroke="#111" stroke-width="0.9"/>
<text transform="translate(282.8,434.3) rotate(-90)" x="0" y="0" font-size="10.4" textLength="29.9" lengthAdjust="spacingAndGlyphs" fill="#1a1a1a" stroke="#1a1a1a" stroke-width="0.2">MFI CD44</text>
<text x="330.2" y="481.1" font-size="8.2" textLength="36.2" lengthAdjust="spacingAndGlyphs" fill="#1a1a1a" stroke="#1a1a1a" stroke-width="0.17">CD3 CD4</text>
<text x="401.4" y="481.1" font-size="8.2" textLength="36.4" lengthAdjust="spacingAndGlyphs" fill="#1a1a1a" stroke="#1a1a1a" stroke-width="0.17">CD3 CD8</text>
<line x1="320.3" y1="380.8" x2="320.3" y2="384.3" stroke="#222" stroke-width="0.9"/>
<line x1="318.8" y1="380.8" x2="321.8" y2="380.8" stroke="#111" stroke-width="1.1"/>
<rect x="317.8" y="384.3" width="5" height="82.9" fill="#4e5466"/>
<rect x="318.05" y="384.55" width="4.5" height="82.4" fill="none" stroke="#2a3040" stroke-width="0.5"/>
<line x1="329.7" y1="400" x2="329.7" y2="401.6" stroke="#222" stroke-width="0.9"/>
<line x1="328.2" y1="400" x2="331.2" y2="400" stroke="#111" stroke-width="1.1"/>
<rect x="327.2" y="401.6" width="5" height="65.6" fill="url(#dg)"/>
<line x1="339" y1="391.4" x2="339" y2="393.9" stroke="#222" stroke-width="0.9"/>
<line x1="337.5" y1="391.4" x2="340.5" y2="391.4" stroke="#111" stroke-width="1.1"/>
<rect x="336.5" y="393.9" width="5" height="73.3" fill="url(#dp)"/>
<line x1="348.4" y1="384.7" x2="348.4" y2="387.3" stroke="#222" stroke-width="0.9"/>
<line x1="346.9" y1="384.7" x2="349.9" y2="384.7" stroke="#111" stroke-width="1.1"/>
<rect x="345.9" y="387.3" width="5" height="79.9" fill="url(#do)"/>
<line x1="357.7" y1="389.6" x2="357.7" y2="390.4" stroke="#222" stroke-width="0.9"/>
<line x1="356.2" y1="389.6" x2="359.2" y2="389.6" stroke="#111" stroke-width="1.1"/>
<rect x="355.2" y="390.4" width="5" height="76.8" fill="url(#hg2)"/>
<line x1="367.1" y1="383.3" x2="367.1" y2="386.3" stroke="#222" stroke-width="0.9"/>
<line x1="365.6" y1="383.3" x2="368.6" y2="383.3" stroke="#111" stroke-width="1.1"/>
<rect x="364.6" y="386.3" width="5" height="80.9" fill="url(#hp2)"/>
<line x1="376.6" y1="383.9" x2="376.6" y2="385.9" stroke="#222" stroke-width="0.9"/>
<line x1="375.1" y1="383.9" x2="378.1" y2="383.9" stroke="#111" stroke-width="1.1"/>
<rect x="374.1" y="385.9" width="5" height="81.3" fill="url(#ho2)"/>
<line x1="391.6" y1="398.8" x2="391.6" y2="402.9" stroke="#222" stroke-width="0.9"/>
<line x1="390.1" y1="398.8" x2="393.1" y2="398.8" stroke="#111" stroke-width="1.1"/>
<rect x="389.1" y="402.9" width="5" height="64.3" fill="#4e5466"/>
<rect x="389.35" y="403.15" width="4.5" height="63.8" fill="none" stroke="#2a3040" stroke-width="0.5"/>
<line x1="400.9" y1="412" x2="400.9" y2="413.3" stroke="#222" stroke-width="0.9"/>
<line x1="399.4" y1="412" x2="402.4" y2="412" stroke="#111" stroke-width="1.1"/>
<rect x="398.4" y="413.3" width="5" height="53.9" fill="url(#dg)"/>
<line x1="410.2" y1="404.6" x2="410.2" y2="407.1" stroke="#222" stroke-width="0.9"/>
<line x1="408.7" y1="404.6" x2="411.7" y2="404.6" stroke="#111" stroke-width="1.1"/>
<rect x="407.7" y="407.1" width="5" height="60.1" fill="url(#dp)"/>
<line x1="419.4" y1="401.3" x2="419.4" y2="403.6" stroke="#222" stroke-width="0.9"/>
<line x1="417.9" y1="401.3" x2="420.9" y2="401.3" stroke="#111" stroke-width="1.1"/>
<rect x="416.9" y="403.6" width="5" height="63.6" fill="url(#do)"/>
<line x1="428.7" y1="402.7" x2="428.7" y2="407.1" stroke="#222" stroke-width="0.9"/>
<line x1="427.2" y1="402.7" x2="430.2" y2="402.7" stroke="#111" stroke-width="1.1"/>
<rect x="426.2" y="407.1" width="5" height="60.1" fill="url(#hg2)"/>
<line x1="437.9" y1="398.4" x2="437.9" y2="402.3" stroke="#222" stroke-width="0.9"/>
<line x1="436.4" y1="398.4" x2="439.4" y2="398.4" stroke="#111" stroke-width="1.1"/>
<rect x="435.4" y="402.3" width="5" height="64.9" fill="url(#hp2)"/>
<line x1="447.1" y1="402.9" x2="447.1" y2="404.6" stroke="#222" stroke-width="0.9"/>
<line x1="445.6" y1="402.9" x2="448.6" y2="402.9" stroke="#111" stroke-width="1.1"/>
<rect x="444.6" y="404.6" width="5" height="62.6" fill="url(#ho2)"/>
<polygon points="327.3,365 327.3,372.5 353.3,372.5" fill="url(#chk)" stroke="#111" stroke-width="1.1" stroke-linejoin="miter"/>
<line x1="327.4" y1="364.7" x2="327.4" y2="372.8" stroke="#111" stroke-width="1.4"/>
<polygon points="356,365 356,372.5 382.6,372.5" fill="url(#grd)" stroke="#111" stroke-width="1.1" stroke-linejoin="miter"/>
<line x1="356.1" y1="364.7" x2="356.1" y2="372.8" stroke="#111" stroke-width="1.4"/>
<polygon points="398.2,365 398.2,372.5 424.3,372.5" fill="url(#chk)" stroke="#111" stroke-width="1.1" stroke-linejoin="miter"/>
<line x1="398.3" y1="364.7" x2="398.3" y2="372.8" stroke="#111" stroke-width="1.4"/>
<polygon points="426.5,365 426.5,372.5 452.6,372.5" fill="url(#grd)" stroke="#111" stroke-width="1.1" stroke-linejoin="miter"/>
<line x1="426.6" y1="364.7" x2="426.6" y2="372.8" stroke="#111" stroke-width="1.4"/>
<text x="332.2" y="360.1" font-size="8" textLength="14.6" lengthAdjust="spacingAndGlyphs" fill="#1a1a1a" stroke="#1a1a1a" stroke-width="0.17">ATP</text>
<text x="361.8" y="360.1" font-size="8" textLength="14.2" lengthAdjust="spacingAndGlyphs" fill="#1a1a1a" stroke="#1a1a1a" stroke-width="0.17">IMP</text>
<text x="402.7" y="360.1" font-size="8" textLength="14.9" lengthAdjust="spacingAndGlyphs" fill="#1a1a1a" stroke="#1a1a1a" stroke-width="0.17">ATP</text>
<text x="431" y="360.1" font-size="8" textLength="15.1" lengthAdjust="spacingAndGlyphs" fill="#1a1a1a" stroke="#1a1a1a" stroke-width="0.17">IMP</text>
<rect x="457.1" y="373.2" width="9.7" height="5" fill="#4e5466"/>
<text x="469.7" y="378.5" font-size="8.2" textLength="24.6" lengthAdjust="spacingAndGlyphs" fill="#1a1a1a" stroke="#1a1a1a" stroke-width="0.17">Control</text>
<rect x="457.1" y="385" width="9.7" height="5" fill="url(#lg)"/>
<text x="469.7" y="390.3" font-size="8.2" textLength="42.1" lengthAdjust="spacingAndGlyphs" fill="#1a1a1a" stroke="#1a1a1a" stroke-width="0.17">ATP 200 &#956;M</text>
<rect x="457.1" y="396.8" width="9.7" height="5" fill="url(#lp)"/>
<text x="469.7" y="402.1" font-size="8.2" textLength="42.1" lengthAdjust="spacingAndGlyphs" fill="#1a1a1a" stroke="#1a1a1a" stroke-width="0.17">ATP 100 &#956;M</text>
<rect x="457.1" y="408.6" width="9.7" height="5" fill="url(#lo)"/>
<text x="469.7" y="413.9" font-size="8.2" textLength="37.4" lengthAdjust="spacingAndGlyphs" fill="#1a1a1a" stroke="#1a1a1a" stroke-width="0.17">ATP 50 &#956;M</text>
<rect x="457.1" y="420.4" width="9.7" height="1.9" fill="#4f9e26"/>
<rect x="457.1" y="423.5" width="9.7" height="1.9" fill="#4f9e26"/>
<text x="469.7" y="425.7" font-size="8.2" textLength="40.6" lengthAdjust="spacingAndGlyphs" fill="#1a1a1a" stroke="#1a1a1a" stroke-width="0.17">IMP 200 &#956;M</text>
<rect x="457.1" y="432.2" width="9.7" height="1.9" fill="#440c58"/>
<rect x="457.1" y="435.3" width="9.7" height="1.9" fill="#440c58"/>
<text x="469.7" y="437.5" font-size="8.2" textLength="40.6" lengthAdjust="spacingAndGlyphs" fill="#1a1a1a" stroke="#1a1a1a" stroke-width="0.17">IMP 100 &#956;M</text>
<rect x="457.1" y="444" width="9.7" height="1.9" fill="#dc8203"/>
<rect x="457.1" y="447.1" width="9.7" height="1.9" fill="#dc8203"/>
<text x="469.7" y="449.3" font-size="8.2" textLength="36.4" lengthAdjust="spacingAndGlyphs" fill="#1a1a1a" stroke="#1a1a1a" stroke-width="0.17">IMP 50 &#956;M</text>
<rect x="0.5" y="0.5" width="519" height="489" fill="none" stroke="#000" stroke-width="1.2"/>
</svg></body></html>
